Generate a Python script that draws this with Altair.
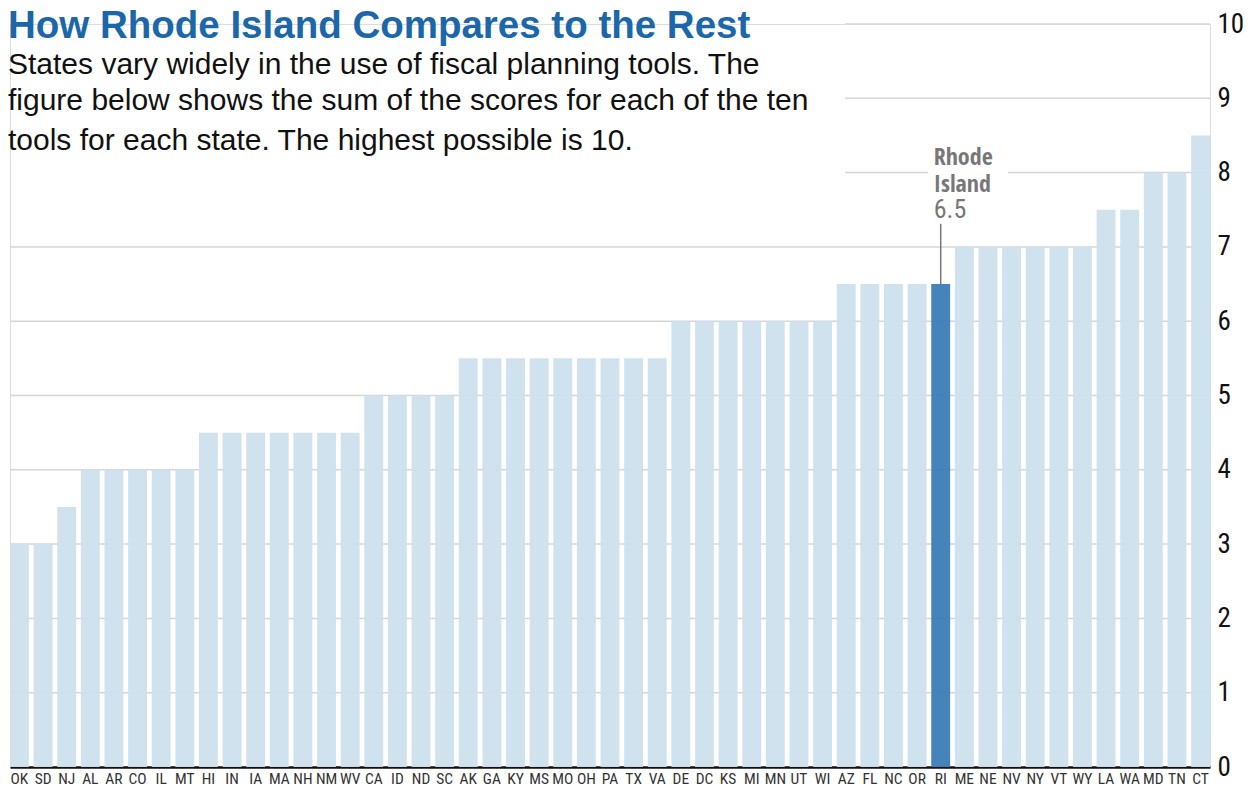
import altair as alt
import pandas as pd

states = ["OK","SD","NJ","AL","AR","CO","IL","MT","HI","IN","IA","MA","NH","NM","WV",
          "CA","ID","ND","SC","AK","GA","KY","MS","MO","OH","PA","TX","VA","DE","DC",
          "KS","MI","MN","UT","WI","AZ","FL","NC","OR","RI","ME","NE","NV","NY","VT",
          "WY","LA","WA","MD","TN","CT"]
scores = [3,3,3.5,4,4,4,4,4,4.5,4.5,4.5,4.5,4.5,4.5,4.5,
          5,5,5,5,5.5,5.5,5.5,5.5,5.5,5.5,5.5,5.5,5.5,6,6,
          6,6,6,6,6,6.5,6.5,6.5,6.5,6.5,7,7,7,7,7,
          7,7.5,7.5,8,8,8.5]
highlight = "RI"
y_ticks = [0,1,2,3,4,5,6,7,8,9,10]
grid_full = [1,2,3,4,5,6,7]
grid_upper = [9,10]
grid_split = [8]

title = "How Rhode Island Compares to the Rest"
subtitle = ["States vary widely in the use of fiscal planning tools.  The",
            "figure below shows the sum of the scores for each of the ten",
            "tools for each state.  The highest possible is 10."]
subtitle_y = [50, 86, 126]

W, H = 1200, 743
COND = "Roboto Condensed"

df = pd.DataFrame({"state": states, "score": scores})
df["hl"] = df["state"] == highlight

yscale = alt.Scale(domain=[0, 10], nice=False)
yaxis = alt.Axis(orient="right", values=y_ticks, format="d", grid=False, ticks=False,
                 domain=False, labelFont=COND, labelFontSize=27,
                 labelColor="#111111", labelPadding=7)
xaxis = alt.Axis(labelAngle=0, labelFont=COND, labelFontSize=15.5,
                 labelColor="#333333", ticks=False, labelPadding=4,
                 domainColor="#111111", domainWidth=2.5)

def grid_layer(vals, x0, x1):
    return alt.Chart(pd.DataFrame({"g": vals})).mark_rule(
        color="#d6d6d6", strokeWidth=1.5).encode(
        y=alt.Y("g:Q", scale=yscale, axis=yaxis, title=None),
        x=alt.value(x0), x2=alt.value(x1))

grids = (grid_layer(grid_full, 0, W) + grid_layer(grid_upper, 835, W)
         + grid_layer(grid_split, 835, 918) + grid_layer(grid_split, 998, W))

bars = alt.Chart(df).mark_bar(opacity=0.95).encode(
    x=alt.X("state:N", sort=states, title=None,
            scale=alt.Scale(paddingInner=0.2, paddingOuter=0.0), axis=xaxis),
    y=alt.Y("score:Q", scale=yscale, axis=yaxis, title=None),
    color=alt.condition(alt.datum.hl, alt.value("#3a7db6"), alt.value("#cfe0ee")))

ri = df[df["state"] == highlight]
leader = alt.Chart(ri).mark_rule(color="#777777", strokeWidth=1.5).encode(
    x=alt.X("state:N", sort=states),
    y=alt.Y("score:Q", scale=yscale),
    y2=alt.datum(7.31))

def ann(text, dy, bold):
    return alt.Chart(ri).mark_text(
        text=text, align="left", baseline="alphabetic", dx=-7, dy=dy,
        font="Open Sans Condensed" if bold else COND,
        fontSize=24 if bold else 26, fontWeight="bold" if bold else "normal",
        color="#777777").encode(
        x=alt.X("state:N", sort=states), y=alt.Y("score:Q", scale=yscale))

annots = ann("Rhode", -119, True) + ann("Island", -92, True) + ann("6.5", -66, False)

one = pd.DataFrame({"k": [0]})
title_mark = alt.Chart(one).mark_text(
    text=title, align="left", baseline="alphabetic", font="Liberation Sans",
    fontSize=38.5, fontWeight="bold", color="#1b67a9").encode(
    x=alt.value(-2), y=alt.value(14))

sub_marks = None
for line, yy in zip(subtitle, subtitle_y):
    m = alt.Chart(one).mark_text(
        text=line, align="left", baseline="alphabetic", font="Liberation Sans",
        fontSize=30, color="#111111").encode(
        x=alt.value(-2), y=alt.value(yy))
    sub_marks = m if sub_marks is None else sub_marks + m

chart = alt.layer(grids, bars, leader, annots, title_mark, sub_marks).properties(
    width=W, height=H,
    autosize=alt.AutoSizeParams(type="none"),
    padding={"left": 2, "top": 16, "right": 33, "bottom": 21}
).configure_view(stroke=None).configure(background="white")

chart.save("out.html", embed_options={"renderer": "svg", "actions": False})
